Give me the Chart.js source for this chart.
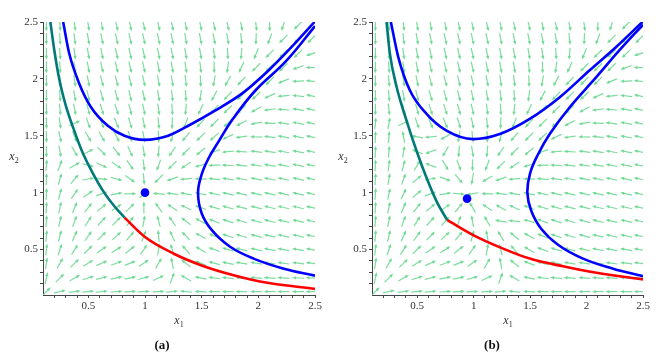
<!DOCTYPE html>
<html>
<head>
<meta charset="utf-8">
<script src="https://cdn.jsdelivr.net/npm/chart.js@4.4.1/dist/chart.umd.min.js"></script>
<style>
  body { margin: 0; background: #fff; width: 669px; height: 355px; position: relative; overflow: hidden; font-family: "Liberation Serif", "DejaVu Serif", serif; color: #333; }
  .panel { position: absolute; top: 0; height: 320px; }
  .lbl { position: absolute; font-size: 12px; transform: translate(-50%, -50%); white-space: nowrap; }
  .lbl sub { font-size: 8px; font-style: normal; }
  .cap { position: absolute; font-size: 13px; font-weight: bold; color: #111; transform: translate(-50%, -50%); }
</style>
</head>
<body>
<div class="panel" style="left:0;width:330px"><canvas id="chartA"></canvas></div>
<div class="panel" style="left:329px;width:331px"><canvas id="chartB"></canvas></div>
<div class="lbl" style="left:179px;top:321px"><i>x</i><sub>1</sub></div>
<div class="lbl" style="left:508px;top:321px"><i>x</i><sub>1</sub></div>
<div class="lbl" style="left:14px;top:157px"><i>x</i><sub>2</sub></div>
<div class="lbl" style="left:343px;top:157px"><i>x</i><sub>2</sub></div>
<div class="cap" style="left:162px;top:345px">(a)</div>
<div class="cap" style="left:492px;top:345px">(b)</div>
<script>
// axes
const majorTicks = [0.5, 1, 1.5, 2, 2.5];
const tickLabels = ['0.5', '1', '1.5', '2', '2.5'];

// direction field grid (arrow centres)
const arrowColsX = [0.13, 0.25, 0.38, 0.5, 0.62, 0.75, 0.87, 0.99, 1.12, 1.24, 1.36, 1.49, 1.61, 1.73, 1.85, 1.98, 2.1, 2.22, 2.35, 2.47];
const arrowRowsY = [2.47, 2.35, 2.22, 2.1, 1.98, 1.85, 1.73, 1.61, 1.49, 1.36, 1.24, 1.12, 0.99, 0.87, 0.75, 0.62, 0.5, 0.38, 0.25, 0.13];

// arrow directions in degrees (0 = right, 90 = up), rows top to bottom
const fieldA = [
  [-90,-87,-83,-81,-79,-78,-78,-77,-77,-78,-78,-78,-77,-77,-78,-82,-90,-108,-135,225],
  [-90,-87,-83,-80,-78,-77,-77,-77,-77,-78,-79,-79,-79,-80,-84,-92,-110,-135,225,225],
  [-90,-86,-82,-80,-78,-77,-77,-77,-78,-79,-80,-80,-82,-86,-95,-112,-135,225,225,198],
  [-90,-86,-82,-79,-77,-76,-77,-77,-78,-80,-81,-83,-88,-98,-115,-135,225,225,200,180],
  [-90,-85,-81,-78,-76,-75,-76,-77,-79,-81,-83,-88,-100,-118,-134,225,225,202,182,172],
  [-90,-85,-80,-76,-74,-74,-76,-77,-80,-83,-87,-98,-118,-134,225,224,205,185,174,168],
  [-90,-84,-78,-74,-72,-72,-75,-77,-82,-86,-95,-115,-133,225,224,208,188,176,170,167],
  [-89,-82,25,-70,-68,-68,-73,-78,-84,-92,-110,-132,225,223,208,190,178,172,169,167],
  [-88,-78,-68,-60,-60,-62,-70,-79,-88,-105,-130,225,222,205,188,178,173,170,169,168],
  [-88,-80,-60,25,-45,-52,-65,-80,-95,-125,225,220,200,185,177,173,171,170,169,168],
  [85,70,30,-15,-25,-35,-55,-82,-110,225,215,195,182,176,173,171,170,169,168,168],
  [87,75,50,10,-5,-15,-35,-85,225,200,185,178,174,172,170,169,168,168,167,167],
  [87,75,55,35,20,10,0,45,175,172,170,169,168,167,167,167,167,167,167,167],
  [87,78,68,52,40,35,45,90,125,145,155,160,163,165,166,166,167,167,167,168],
  [86,78,70,58,48,45,55,80,105,125,142,152,158,162,164,165,166,167,167,168],
  [85,76,66,55,45,42,50,70,95,115,135,150,158,162,164,166,167,168,168,169],
  [84,72,58,45,35,32,38,55,80,105,130,150,160,164,166,168,169,170,170,171],
  [82,60,45,32,24,20,22,35,60,100,140,158,165,168,170,171,172,172,173,173],
  [78,45,30,18,14,12,12,15,25,70,150,168,172,174,175,175,176,176,177,177],
  [45,12,8,6,5,4,3,3,3,5,175,178,179,180,180,180,180,180,180,180]
];

const fieldB = [
  [-90,-87,-83,-81,-79,-78,-78,-77,-77,-78,-78,-78,-77,-77,-78,-82,-90,-108,-135,225],
  [-90,-87,-83,-80,-78,-77,-77,-77,-77,-78,-79,-79,-79,-80,-84,-92,-110,-135,225,225],
  [-90,-86,-82,-80,-78,-77,-77,-77,-78,-79,-80,-80,-82,-86,-95,-112,-135,225,225,198],
  [-90,-86,-82,-79,-77,-76,-77,-77,-78,-80,-81,-83,-88,-98,-115,-135,225,225,200,180],
  [-90,-85,-81,-78,-76,-75,-76,-77,-79,-81,-83,-88,-100,-118,-134,225,225,202,182,172],
  [-90,-85,-80,-76,-74,-74,-76,-77,-80,-83,-87,-98,-118,-134,225,224,205,185,174,168],
  [-90,-84,-78,-74,-72,-72,-75,-77,-82,-86,-95,-115,-133,225,224,208,188,176,170,167],
  [85,80,25,-70,-68,-68,-73,-78,-84,-92,-110,-132,225,223,208,190,178,172,169,167],
  [88,85,100,170,185,210,-100,-85,-88,-105,-130,225,222,205,188,178,173,170,169,168],
  [88,85,80,160,200,240,-95,-80,-95,-125,225,220,200,185,177,173,171,170,169,168],
  [87,83,75,60,160,-60,-70,-90,-110,225,215,195,182,176,173,171,170,169,168,168],
  [87,80,70,40,10,-20,-50,-100,210,200,185,178,174,172,170,169,168,168,167,167],
  [87,78,65,40,20,10,-5,190,178,172,170,169,168,167,167,167,167,167,167,167],
  [87,78,68,52,40,35,50,120,145,150,155,160,163,165,166,166,167,167,167,168],
  [86,78,70,58,48,50,70,100,120,170,175,165,160,162,164,165,166,167,167,168],
  [85,76,66,55,45,42,50,75,100,120,140,150,158,162,164,166,167,168,168,169],
  [84,72,58,45,35,32,38,55,80,105,130,150,160,164,166,168,169,170,170,171],
  [82,60,45,32,24,20,22,35,60,100,140,158,165,168,170,171,172,172,173,173],
  [78,45,30,18,14,12,12,15,25,70,150,168,172,174,175,175,176,176,177,177],
  [45,12,8,6,5,4,3,3,3,5,175,178,179,180,180,180,180,180,180,180]
];

// curves, panel (a)
const upperA = [[0.278,2.5],[0.331,2.225],[0.42,1.958],[0.524,1.751],[0.672,1.588],[0.819,1.5],[0.997,1.464],[1.205,1.5],[1.382,1.588],[1.618,1.721],[1.855,1.87],[2.092,2.076],[2.296,2.283],[2.5,2.505]];
const rightA = [[2.5,0.27],[2.225,0.331],[1.958,0.42],[1.751,0.524],[1.588,0.672],[1.5,0.819],[1.468,1.0],[1.5,1.16],[1.56,1.3],[1.65,1.45],[1.77,1.64],[1.976,1.9],[2.242,2.153],[2.5,2.464]];
const tealA = [[0.165,2.5],[0.2,2.25],[0.245,1.99],[0.3,1.77],[0.37,1.56],[0.45,1.35],[0.54,1.17],[0.64,1.0],[0.73,0.88],[0.82,0.78]];
const redA = [[0.82,0.78],[1.0,0.61],[1.25,0.465],[1.5,0.36],[1.79,0.272],[2.08,0.207],[2.5,0.154]];
const eqA = [[1.0, 1.0]];

// curves, panel (b)
const upperB = [[0.267,2.5],[0.332,2.194],[0.435,1.9],[0.583,1.692],[0.76,1.544],[0.996,1.47],[1.232,1.515],[1.497,1.648],[1.763,1.839],[2.028,2.076],[2.265,2.283],[2.5,2.505]];
const rightB = [[2.5,0.266],[2.235,0.331],[1.969,0.42],[1.75,0.54],[1.6,0.68],[1.51,0.84],[1.476,1.0],[1.5,1.17],[1.571,1.337],[1.674,1.515],[1.851,1.751],[2.088,2.017],[2.294,2.254],[2.5,2.476]];
const tealB = [[0.229,2.5],[0.258,2.224],[0.318,1.928],[0.406,1.633],[0.495,1.366],[0.583,1.13],[0.672,0.923],[0.765,0.76]];
const redB = [[0.765,0.76],[0.996,0.627],[1.261,0.508],[1.497,0.42],[1.792,0.352],[2.088,0.295],[2.5,0.237]];
const eqB = [[0.942, 0.947]];

const ARROW_COLOR = 'rgba(110, 216, 148, 0.9)';
const AXIS_COLOR = '#444';

// minor tick marks every 0.1
const tickMarks = [];
for (let k = 2; k <= 25; k++) tickMarks.push(k / 10);

const fieldPlugin = {
  id: 'field',
  beforeDatasetsDraw(chart, args, opts) {
    const { ctx, chartArea, scales } = chart;
    ctx.save();
    ctx.beginPath();
    ctx.rect(chartArea.left, chartArea.top, chartArea.width, chartArea.height);
    ctx.clip();
    ctx.strokeStyle = ARROW_COLOR;
    ctx.fillStyle = ARROW_COLOR;
    ctx.lineWidth = 1.2;
    opts.rows.forEach((row, r) => {
      row.forEach((deg, c) => {
        const cx = scales.x.getPixelForValue(arrowColsX[c]);
        const cy = scales.y.getPixelForValue(arrowRowsY[r]);
        const a = deg * Math.PI / 180;
        const dx = Math.cos(a), dy = -Math.sin(a);
        const half = 6;
        const tx = cx + dx * half, ty = cy + dy * half;
        ctx.beginPath();
        ctx.moveTo(cx - dx * half, cy - dy * half);
        ctx.lineTo(tx - dx * 2, ty - dy * 2);
        ctx.stroke();
        // head
        ctx.beginPath();
        ctx.moveTo(tx, ty);
        ctx.lineTo(tx - dx * 4 - dy * 1.7, ty - dy * 4 + dx * 1.7);
        ctx.lineTo(tx - dx * 4 + dy * 1.7, ty - dy * 4 - dx * 1.7);
        ctx.closePath();
        ctx.fill();
      });
    });
    ctx.restore();
  }
};

function labelFor(v) {
  const i = majorTicks.findIndex(m => Math.abs(m - v) < 1e-6);
  return i < 0 ? '' : tickLabels[i];
}

function axis(which) {
  return {
    type: 'linear',
    min: 0.1,
    max: 2.5,
    afterBuildTicks: s => { s.ticks = tickMarks.map(v => ({ value: v })); },
    afterFit: s => { if (which === 'y') s.width = 43; else s.height = 25; },
    grid: { drawOnChartArea: false, drawTicks: true, tickLength: 3, color: AXIS_COLOR },
    border: { display: true, color: AXIS_COLOR, width: 1 },
    ticks: {
      autoSkip: false, maxRotation: 0, padding: 2, color: '#333',
      font: { family: 'Liberation Serif', size: 11 },
      callback: v => labelFor(v)
    }
  };
}

// monotone = curve that is a function of x1; otherwise plain bezier tension
function line(pts, color, monotone) {
  const ds = {
    data: pts.map(([x, y]) => ({ x, y })),
    showLine: true, borderColor: color, borderWidth: 2.6,
    pointRadius: 0, fill: false
  };
  if (monotone) ds.cubicInterpolationMode = 'monotone';
  else ds.tension = 0.4;
  return ds;
}

function makeChart(id, rows, upper, right, teal, red, eq, padRight) {
  new Chart(document.getElementById(id), {
    type: 'scatter',
    data: {
      datasets: [
        line(teal, '#007a78', true),
        line(red, '#ff0000', true),
        line(upper, '#0000ff', true),
        line(right, '#0000ff', false),
        { data: eq.map(([x, y]) => ({ x, y })), pointRadius: 4.3, pointBackgroundColor: '#0000ff', pointBorderWidth: 0, showLine: false }
      ]
    },
    options: {
      responsive: true,
      maintainAspectRatio: false,
      animation: false,
      layout: { padding: { top: 22, right: padRight, left: 0, bottom: 0 } },
      plugins: { legend: { display: false }, tooltip: { enabled: false }, field: { rows } },
      scales: { x: axis('x'), y: axis('y') }
    },
    plugins: [fieldPlugin]
  });
}

makeChart('chartA', fieldA, upperA, rightA, tealA, redA, eqA, 15);
makeChart('chartB', fieldB, upperB, rightB, tealB, redB, eqB, 17);
</script>
</body>
</html>
